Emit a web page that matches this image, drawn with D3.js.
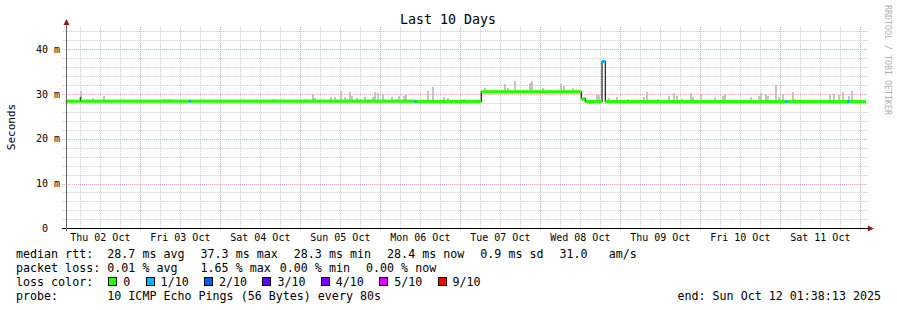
<!DOCTYPE html>
<html>
<head>
<meta charset="utf-8">
<script src="https://cdn.jsdelivr.net/npm/d3@7"></script>
<style>
  body { margin: 0; background: #fff; }
  svg text { font-family: "DejaVu Sans Mono", monospace; fill: #000; white-space: pre; }
</style>
</head>
<body>
<svg id="chart" width="897" height="310"></svg>
<script>
const startTime = "10-02 01:38:13";
const endTime = "10-12 01:38:13";

// median rtt in ms, as steps: time it starts, value, pings lost of 10
const stepTimes = ["10-02 01:38", "10-02 06:00", "10-02 06:06", "10-03 14:36", "10-03 15:12",
                   "10-06 10:16", "10-06 10:52", "10-07 06:18", "10-08 12:18", "10-08 13:30",
                   "10-08 18:30", "10-08 19:30", "10-11 01:34", "10-11 02:10", "10-11 20:00",
                   "10-11 20:36"];
const stepRtt = [28.4, 29.2, 28.4, 28.4, 28.4, 28.35, 28.35, 30.5, 28.9, 28.3,
                 37.3, 28.3, 28.3, 28.3, 28.3, 28.3];
const stepLoss = [0, 0, 0, 1, 0, 1, 0, 0, 0, 0, 1, 0, 1, 0, 1, 0];

// smoke: slowest ping of the round (ms) where it stands out above the median
const smokeTimes = ["10-02 06:04", "10-02 08:18", "10-02 09:48", "10-02 13:06", "10-03 07:06",
                    "10-03 08:54", "10-04 16:00", "10-05 01:42", "10-05 03:43", "10-05 04:25",
                    "10-05 09:04", "10-05 10:30", "10-05 12:07", "10-05 13:19", "10-05 14:49",
                    "10-05 15:30", "10-05 17:00", "10-05 19:30", "10-05 21:49", "10-05 22:30",
                    "10-05 23:24", "10-06 00:54", "10-06 03:30", "10-06 05:42", "10-06 07:01",
                    "10-06 07:48", "10-06 14:13", "10-06 15:49", "10-06 19:01", "10-06 20:13",
                    "10-07 01:01", "10-07 07:16", "10-07 09:50", "10-07 10:25", "10-07 11:00",
                    "10-07 13:16", "10-07 14:24", "10-07 16:15", "10-07 18:00", "10-07 18:40",
                    "10-07 19:20", "10-07 20:54", "10-07 21:36", "10-08 00:54", "10-08 02:30",
                    "10-08 03:10", "10-08 06:13", "10-08 07:12", "10-08 09:54", "10-08 13:30",
                    "10-08 17:00", "10-08 17:40", "10-08 20:37", "10-08 23:00", "10-09 02:18",
                    "10-09 07:06", "10-09 08:00", "10-09 11:18", "10-09 14:31", "10-09 16:01",
                    "10-09 17:00", "10-09 18:31", "10-09 21:18", "10-09 21:43", "10-10 00:18",
                    "10-10 04:30", "10-10 06:48", "10-10 07:19", "10-10 15:18", "10-10 17:31",
                    "10-10 18:18", "10-10 19:48", "10-10 20:18", "10-10 22:48", "10-10 23:31",
                    "10-11 00:48", "10-11 03:43", "10-11 04:30", "10-11 15:00", "10-11 16:01",
                    "10-11 17:31", "10-11 18:48", "10-11 20:42", "10-11 21:30"];
const smokeTops = [30.6, 28.9, 29.1, 29.6, 28.9,
                   28.9, 28.9, 28.9, 30.0, 29.1,
                   29.3, 29.3, 30.7, 29.3, 30.5,
                   29.6, 29.1, 29.3, 29.3, 30.5,
                   30.2, 30.0, 29.3, 29.6, 29.6,
                   30.0, 30.7, 31.5, 29.3, 29.1,
                   28.9, 31.4, 30.9, 30.9, 30.9,
                   32.3, 31.4, 33.0, 30.9, 30.9,
                   30.9, 32.4, 32.9, 31.4, 30.9,
                   30.9, 32.2, 31.8, 31.4, 29.3,
                   29.7, 29.7, 29.1, 29.3, 28.9,
                   29.3, 30.5, 28.9, 29.6, 30.2,
                   29.6, 28.9, 30.2, 29.3, 30.0,
                   29.3, 29.6, 30.1, 29.3, 29.6,
                   30.2, 30.0, 29.6, 32.0, 29.3,
                   30.0, 30.5, 28.9, 30.0, 30.1,
                   29.8, 30.5, 29.6, 30.7];

const lossLabels = ["0", "1/10", "2/10", "3/10", "4/10", "5/10", "9/10"];
const lossColors = ["#26ff00", "#00b8ff", "#0059ff", "#5e00ff", "#7e00ff", "#dd00ff", "#ff0000"];

const rttLegend = ["28.7 ms avg  ", "37.3 ms max  ", "28.3 ms min  ", "28.4 ms now  ", "0.9 ms sd  ", "31.0   am/s"];
const lossLegend = ["0.01 % avg   ", "1.65 % max ", "0.00 % min  ", "0.00 % now"];
const probeText = "10 ICMP Echo Pings (56 Bytes) every 80s";

const parseMin = d3.timeParse("%Y-%m-%d %H:%M");
const parseSec = d3.timeParse("%Y-%m-%d %H:%M:%S");
const t = s => parseMin("2025-" + s);

const t0 = parseSec("2025-" + startTime);
const t1 = parseSec("2025-" + endTime);

const plotLeft = 65.8, plotRight = 865.8, plotBottom = 228.3, plotTop = 26.9;

const svg = d3.select("#chart");

const x = d3.scaleTime().domain([t0, t1]).range([plotLeft, plotRight]);
const y = d3.scaleLinear().domain([0, 45]).range([plotBottom, plotTop]);
const lossColor = d3.scaleThreshold().domain([1, 2, 3, 4, 5, 9]).range(lossColors);

// grid
const gridG = svg.append("g").attr("class", "grid");
const minorY = d3.range(2, 45, 2).filter(v => v % 10 !== 0);
const majorY = [10, 20, 30, 40];
const sixHours = d3.timeHour.every(6).range(t0, t1).filter(d => d.getHours() !== 0);
const days = d3.timeDay.range(t0, t1);

gridG.selectAll(".hmin").data(minorY).join("line")
     .attr("x1", plotLeft - 3).attr("x2", plotRight + 2)
     .attr("y1", d => Math.round(y(d)) + 0.5).attr("y2", d => Math.round(y(d)) + 0.5)
     .attr("stroke", "#c8c8c8").attr("stroke-dasharray", "1,1");

gridG.selectAll(".vmin").data(sixHours).join("line")
     .attr("x1", d => Math.round(x(d)) + 0.5).attr("x2", d => Math.round(x(d)) + 0.5)
     .attr("y1", plotTop).attr("y2", plotBottom + 3)
     .attr("stroke", "#c8c8c8").attr("stroke-dasharray", "1,1");

gridG.selectAll(".hmaj").data(majorY).join("line")
     .attr("x1", plotLeft - 4).attr("x2", plotRight + 2)
     .attr("y1", d => Math.round(y(d)) + 0.5).attr("y2", d => Math.round(y(d)) + 0.5)
     .attr("stroke", "#f09a9a").attr("stroke-dasharray", "1,1");

gridG.selectAll(".vmaj").data(days).join("line")
     .attr("x1", d => Math.round(x(d)) + 0.5).attr("x2", d => Math.round(x(d)) + 0.5)
     .attr("y1", plotTop).attr("y2", plotBottom + 3)
     .attr("stroke", "#f09a9a").attr("stroke-dasharray", "1,1");

// smoke, from the median up to the slowest ping
const steps = stepTimes.map((s, i) => ({ t: t(s), rtt: stepRtt[i], loss: stepLoss[i] }));
steps.forEach((d, i) => { d.end = i + 1 < steps.length ? steps[i + 1].t : t1; });
const medianAt = when => steps.filter(d => d.t <= when).pop().rtt;

const smoke = smokeTimes.map((s, i) => ({ t: t(s), top: smokeTops[i] }));
svg.append("g").selectAll("rect").data(smoke).join("rect")
   .attr("x", d => Math.round(x(d.t)) - 1)
   .attr("width", 2)
   .attr("y", d => Math.round(y(d.top)))
   .attr("height", d => Math.max(0, Math.round(y(medianAt(d.t))) - Math.round(y(d.top))))
   .attr("fill", "#c4c4c4");

// median line, then loss coloured strip over it
const medianLine = d3.line().curve(d3.curveStepAfter)
                     .x(d => x(d.t)).y(d => y(d.rtt));
svg.append("path")
   .datum(steps.concat([{ t: t1, rtt: steps[steps.length - 1].rtt }]))
   .attr("d", medianLine)
   .attr("fill", "none")
   .attr("stroke", "#202020")
   .attr("stroke-width", 1.2);

svg.append("g").selectAll("rect").data(steps).join("rect")
   .attr("x", d => x(d.t))
   .attr("width", d => x(d.end) - x(d.t))
   .attr("y", d => y(d.rtt) - 1.6)
   .attr("height", 3.2)
   .attr("fill", d => lossColor(d.loss));

// axes
const axisY = Math.round(plotBottom) + 0.5;
svg.append("line")
   .attr("x1", plotLeft - 4).attr("x2", plotRight + 4)
   .attr("y1", axisY).attr("y2", axisY)
   .attr("stroke", "#000");
svg.append("path")
   .attr("d", `M${plotRight + 2},${axisY - 3}L${plotRight + 8},${axisY}L${plotRight + 2},${axisY + 3}Z`)
   .attr("fill", "#8b1a1a");
svg.append("line")
   .attr("x1", 66.5).attr("x2", 66.5)
   .attr("y1", plotBottom + 3).attr("y2", plotTop - 3)
   .attr("stroke", "#666");
svg.append("path")
   .attr("d", `M63.5,${plotTop - 2}L66.5,${plotTop - 8}L69.5,${plotTop - 2}Z`)
   .attr("fill", "#8b1a1a");

svg.append("g").selectAll("text").data([0].concat(majorY)).join("text")
   .attr("x", 60)
   .attr("y", d => y(d))
   .attr("dy", "0.35em")
   .attr("text-anchor", "end")
   .style("font-size", "10px")
   .text(d => d === 0 ? " 0  " : d + " m");

const dayFmt = d3.timeFormat("%a %d %b");
const noons = d3.timeDay.range(d3.timeDay.floor(t0), t1)
                .map(d => d3.timeHour.offset(d, 12))
                .filter(d => d >= t0 && d <= t1);
svg.append("g").selectAll("text").data(noons).join("text")
   .attr("x", d => x(d))
   .attr("y", 241)
   .attr("text-anchor", "middle")
   .style("font-size", "10px")
   .text(d => dayFmt(d));

// titles
svg.append("text")
   .attr("x", 448).attr("y", 24)
   .attr("text-anchor", "middle")
   .style("font-size", "13.3px")
   .text("Last 10 Days");

svg.append("text")
   .attr("transform", "translate(15,127) rotate(-90)")
   .attr("text-anchor", "middle")
   .style("font-size", "11px")
   .text("Seconds");

svg.append("text")
   .attr("transform", "translate(885,5) rotate(90)")
   .style("font-size", "8.3px")
   .style("fill", "#b0b0b0")
   .text("RRDTOOL / TOBI OETIKER");

// legend
const charW = 7.02, labelX = 16, valX = 107.3;
const legendFont = "11.67px";

function legendRow(label, items, baseline) {
  svg.append("text").attr("x", labelX).attr("y", baseline)
     .style("font-size", legendFont).text(label);
  let pos = valX;
  items.forEach(s => {
    svg.append("text").attr("x", pos).attr("y", baseline)
       .style("font-size", legendFont).text(s);
    pos += s.length * charW + 2;
  });
}

legendRow("median rtt:", rttLegend, 258);
legendRow("packet loss:", lossLegend, 272);
legendRow("loss color:", [], 286);
legendRow("probe:", [probeText], 300);

let boxX = valX + 1;
lossLabels.forEach((lab, i) => {
  svg.append("rect")
     .attr("x", Math.round(boxX) + 0.5).attr("y", 277.5)
     .attr("width", 8).attr("height", 8)
     .attr("fill", lossColors[i])
     .attr("stroke", "#000");
  svg.append("text")
     .attr("x", boxX + 15).attr("y", 286)
     .style("font-size", legendFont)
     .text(lab);
  boxX += 15 + lab.length * charW + 15.3;
});

svg.append("text")
   .attr("x", 881).attr("y", 300)
   .attr("text-anchor", "end")
   .style("font-size", legendFont)
   .text("end: " + d3.timeFormat("%a %b %d %H:%M:%S %Y")(t1));
</script>
</body>
</html>
